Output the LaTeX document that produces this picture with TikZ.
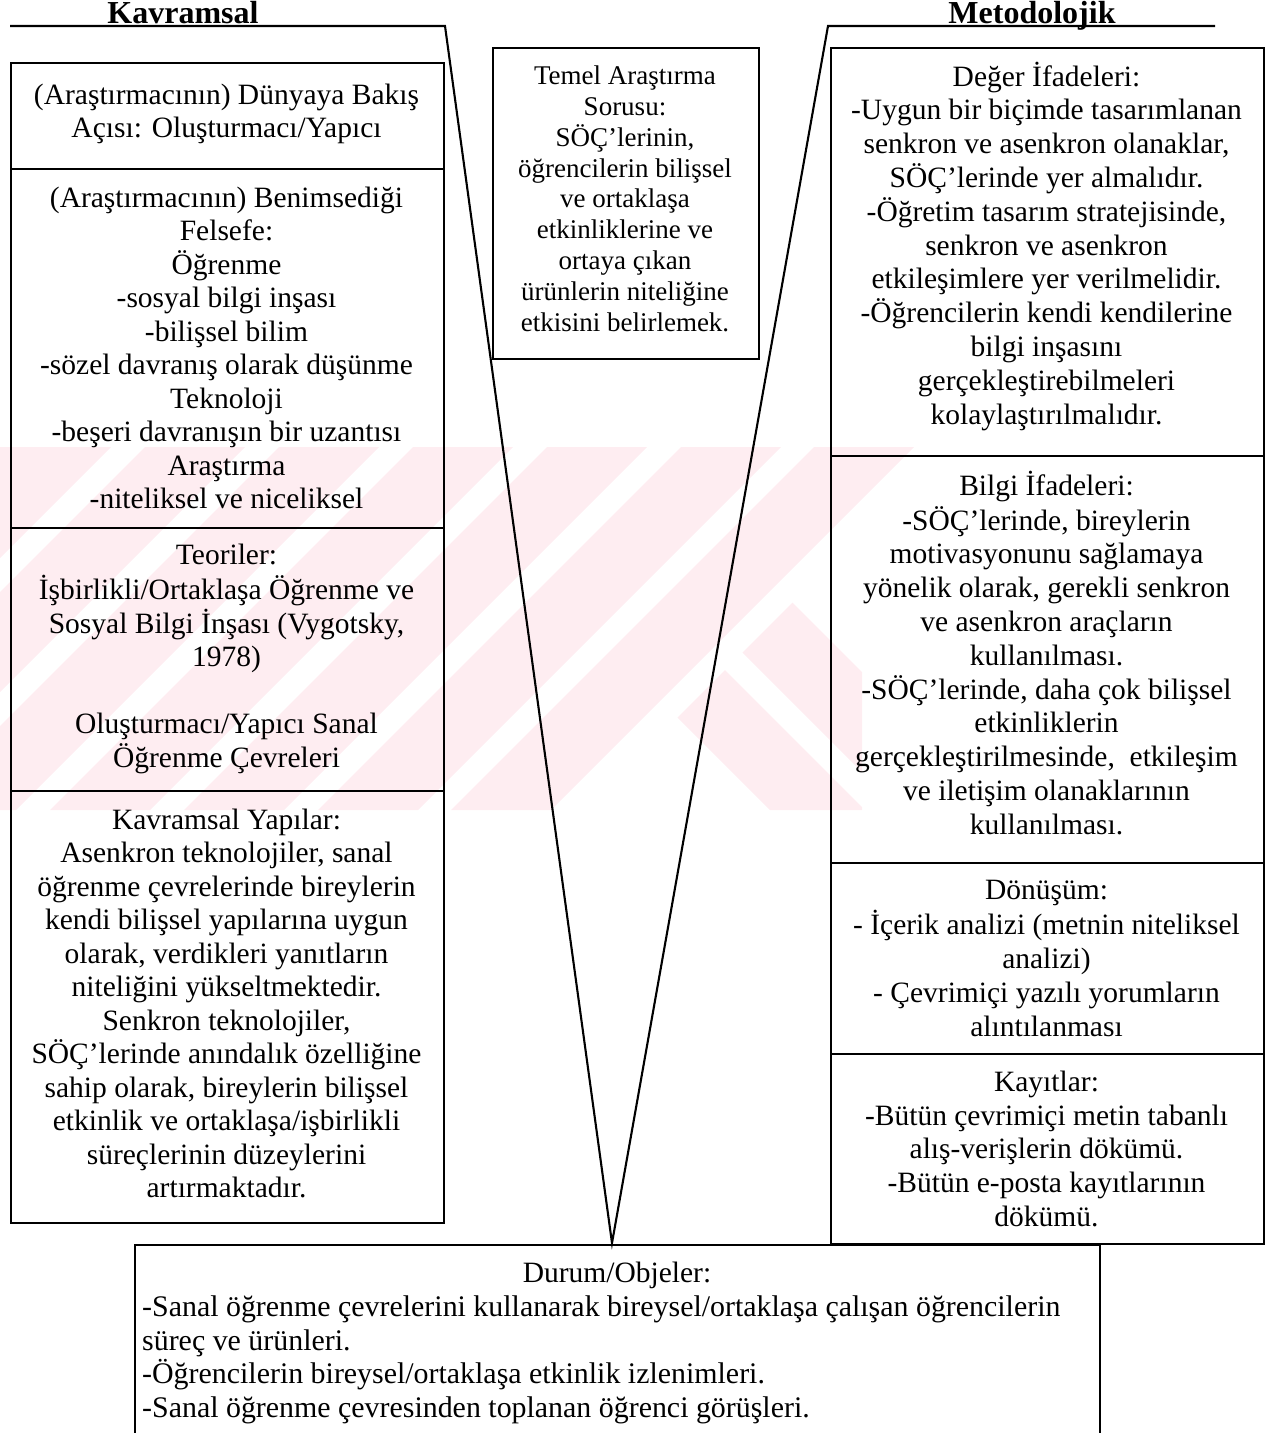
\documentclass[tikz,border=0pt]{standalone}
\usepackage{fontspec}
\setmainfont{Liberation Serif}
\definecolor{wmpink}{RGB}{254,237,241}
\begin{document}
\begin{tikzpicture}[x=1pt,y=-1pt,
  cell/.style={draw=black, line width=2.1pt, inner sep=0pt, anchor=north west},
  vline/.style={draw=black, line width=2.1pt, line join=miter},
  body/.style={font=\fontsize{29.5}{33.5}\selectfont, align=center, inner sep=0pt, anchor=north},
  rbody/.style={font=\fontsize{29.5}{33.8}\selectfont, align=center, inner sep=0pt, anchor=north},
  qbody/.style={font=\fontsize{27}{30.9}\selectfont, align=center, inner sep=0pt, anchor=north},
  head/.style={font=\fontsize{32}{36}\selectfont\bfseries, inner sep=0pt, anchor=base},
]
\useasboundingbox (0,0) rectangle (1265,1433);

% faint striped emblem in the background band
\begin{scope}
  \clip (0,447) rectangle (1265,810);
  \foreach \c in {-12,122,256,390,458,592,726,860,994,1128,1261}{
    \fill[wmpink] (\c-447,447) -- (\c+100-447,447) -- (\c+100-810,810) -- (\c-810,810) -- cycle;
  }
  \begin{scope}
    \clip (1395-447,447) -- (2000,447) -- (2000,810) -- (1395-810,810) -- cycle;
    \clip (0,447) rectangle (862,810);
    \fill[wmpink] (-40+447,447) -- (55+447,447) -- (55+810,810) -- (-40+810,810) -- cycle;
    \fill[wmpink] (90+447,447) -- (190+447,447) -- (190+810,810) -- (90+810,810) -- cycle;
  \end{scope}
\end{scope}

% headings
\node[head] (kav) at (183,23) {Kavramsal};
\node[head] (met) at (1032,23) {Metodolojik};

% the V outline with its two top rules
\coordinate (kl) at (10,26);
\coordinate (vl) at (445,26);
\coordinate (apex) at (612,1243);
\coordinate (vr) at (828,26);
\coordinate (mr) at (1215,26);
\draw[vline] (kl) -- (vl) -- (apex) -- (vr) -- (mr);

% left column
\node[cell, minimum width=433pt, minimum height=106pt] (view) at (10,62) {};
\node[cell, minimum width=433pt, minimum height=359pt] (phil) at (10,168) {};
\node[cell, minimum width=433pt, minimum height=263pt] (theo) at (10,527) {};
\node[cell, minimum width=433pt, minimum height=432pt] (conc) at (10,790) {};

\node[body] (viewT) at (226.5,80.5) {\strut(Araştırmacının) Dünyaya Bakış\\Açısı: Oluşturmacı/Yapıcı};
\node[body] (philT) at (226.5,183.5) {\strut(Araştırmacının) Benimsediği\\Felsefe:\\Öğrenme\\-sosyal bilgi inşası\\-bilişsel bilim\\-sözel davranış olarak düşünme\\Teknoloji\\-beşeri davranışın bir uzantısı\\Araştırma\\-niteliksel ve niceliksel};
\node[body] (theoT) at (226.5,540.5) {\strut Teoriler:\\İşbirlikli/Ortaklaşa Öğrenme ve\\Sosyal Bilgi İnşası (Vygotsky,\\1978)\\~\\Oluşturmacı/Yapıcı Sanal\\Öğrenme Çevreleri};
\node[body] (concT) at (226.5,805.5) {\strut Kavramsal Yapılar:\\Asenkron teknolojiler, sanal\\öğrenme çevrelerinde bireylerin\\kendi bilişsel yapılarına uygun\\olarak, verdikleri yanıtların\\niteliğini yükseltmektedir.\\Senkron teknolojiler,\\SÖÇ’lerinde anındalık özelliğine\\sahip olarak, bireylerin bilişsel\\etkinlik ve ortaklaşa/işbirlikli\\süreçlerinin düzeylerini\\artırmaktadır.};

% central question
\node[cell, minimum width=266pt, minimum height=311pt] (quest) at (492,47) {};
\node[qbody] (questT) at (625,62.5) {\strut Temel Araştırma\\Sorusu:\\SÖÇ’lerinin,\\öğrencilerin bilişsel\\ve ortaklaşa\\etkinliklerine ve\\ortaya çıkan\\ürünlerin niteliğine\\etkisini belirlemek.};

% right column
\node[cell, minimum width=433pt, minimum height=408pt] (value) at (830,47) {};
\node[cell, minimum width=433pt, minimum height=407pt] (know) at (830,455) {};
\node[cell, minimum width=433pt, minimum height=191pt] (trans) at (830,862) {};
\node[cell, minimum width=433pt, minimum height=190pt] (rec) at (830,1053) {};

\node[rbody] (valueT) at (1046.5,61.5) {\strut Değer İfadeleri:\\-Uygun bir biçimde tasarımlanan\\senkron ve asenkron olanaklar,\\SÖÇ’lerinde yer almalıdır.\\-Öğretim tasarım stratejisinde,\\senkron ve asenkron\\etkileşimlere yer verilmelidir.\\-Öğrencilerin kendi kendilerine\\bilgi inşasını\\gerçekleştirebilmeleri\\kolaylaştırılmalıdır.};
\node[rbody] (knowT) at (1046.5,470.5) {\strut Bilgi İfadeleri:\\-SÖÇ’lerinde, bireylerin\\motivasyonunu sağlamaya\\yönelik olarak, gerekli senkron\\ve asenkron araçların\\kullanılması.\\-SÖÇ’lerinde, daha çok bilişsel\\etkinliklerin\\gerçekleştirilmesinde,\ \ etkileşim\\ve iletişim olanaklarının\\kullanılması.};
\node[rbody] (transT) at (1046.5,875.5) {\strut Dönüşüm:\\- İçerik analizi (metnin niteliksel\\analizi)\\- Çevrimiçi yazılı yorumların\\alıntılanması};
\node[rbody] (recT) at (1046.5,1067.5) {\strut Kayıtlar:\\-Bütün çevrimiçi metin tabanlı\\alış-verişlerin dökümü.\\-Bütün e-posta kayıtlarının\\dökümü.};

% events / objects, open at the bottom
\coordinate (oBL) at (135,1433);
\coordinate (oTL) at (135,1245);
\coordinate (oTR) at (1100,1245);
\coordinate (oBR) at (1100,1433);
\draw[vline] (oBL) -- (oTL) -- (oTR) -- (oBR);
\node[body] (objH) at (617,1258.5) {\strut Durum/Objeler:};
\node[body, font=\fontsize{29.9}{33.7}\selectfont, align=left, anchor=north west] (objT) at (142,1292.5) {\strut-Sanal öğrenme çevrelerini kullanarak bireysel/ortaklaşa çalışan öğrencilerin\\süreç ve ürünleri.\\-Öğrencilerin bireysel/ortaklaşa etkinlik izlenimleri.\\-Sanal öğrenme çevresinden toplanan öğrenci görüşleri.};
\end{tikzpicture}
\end{document}
